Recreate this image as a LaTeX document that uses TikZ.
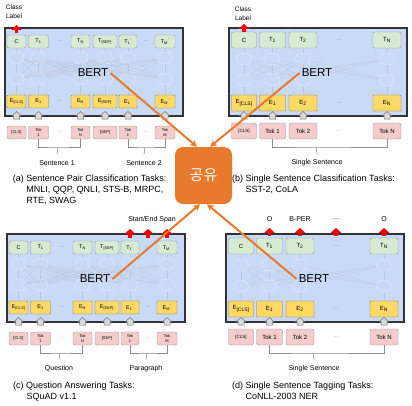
\documentclass[tikz,border=0pt]{standalone}
\usepackage{fontspec}
\setmainfont{Liberation Sans}
\newfontfamily\krfont{Noto Sans CJK KR}
\usetikzlibrary{arrows.meta,calc,positioning,shapes.geometric}

\definecolor{bertblue}{RGB}{201,218,248}
\definecolor{outgreen}{RGB}{217,234,211}
\definecolor{embyellow}{RGB}{255,217,102}
\definecolor{tokpink}{RGB}{244,204,204}
\definecolor{shareorange}{RGB}{232,122,46}
\definecolor{layerline}{RGB}{222,230,248}
\definecolor{linkgray}{RGB}{188,199,222}

\tikzset{
  bertbox/.style={draw=black!80,fill=bertblue,line width=1.2pt},
  outbox/.style={draw=black!40,fill=outgreen,rounded corners=2pt,inner sep=0pt,font=\fontsize{5.5}{6}\selectfont},
  embbox/.style={draw=black!55,fill=embyellow,rounded corners=0.8pt,inner sep=0pt,font=\fontsize{5.5}{6}\selectfont},
  tokbox/.style={draw=black!40,fill=tokpink,rounded corners=2pt,inner sep=0pt,align=center,font=\fontsize{4}{4.5}\selectfont},
  dots/.style={text=black!55,inner sep=0pt,font=\fontsize{5}{6}\selectfont},
  layer/.style={ellipse,draw=layerline,line width=0.7pt,minimum width=15pt,minimum height=12pt,inner sep=0pt},
  layerlink/.style={draw=linkgray,line width=0.3pt},
  uparr/.style={draw=black!55,fill=black!15,line width=0.5pt},
  redup/.style={draw=red,line width=3.5pt,-{Triangle[width=10pt,length=5pt]}},
  brk/.style={draw=black!45,line width=0.6pt},
  bertlbl/.style={inner sep=2pt,font=\fontsize{11.5}{12}\selectfont},
  sentlbl/.style={inner sep=1pt,font=\fontsize{7}{8}\selectfont},
  classlbl/.style={align=center,inner sep=0pt,font=\fontsize{6.5}{8.5}\selectfont},
  capt/.style={anchor=north west,align=left,inner sep=0pt,font=\fontsize{9}{11}\selectfont},
  sharebox/.style={fill=shareorange,rounded corners=8pt,minimum width=57pt,minimum height=57pt,text=white,font=\krfont\fontsize{15}{16}\selectfont},
  share/.style={draw=shareorange,line width=2pt,-{Stealth[length=7pt,width=7pt]}}
}

\begin{document}
\begin{tikzpicture}[x=1pt,y=-1pt]
\useasboundingbox (0,0) rectangle (412,405);

% sentence pair panels (a) and (c)
\foreach \p/\dx/\dy/\sa/\sb in {a/0/0/Sentence 1/Sentence 2, c/2/206/Question/Paragraph}{
\begin{scope}[shift={(\dx,\dy)}]
  \draw[bertbox] (5,28) rectangle (183,116);
  \foreach \i/\x/\w/\labo/\labe/\labt in {
      1/16.5/19/C/E\textsubscript{[CLS]}/{[CLS]},
      2/38.5/20/T\textsubscript{1}/E\textsubscript{1}/Tok\\1,
      3/80.5/19/T\textsubscript{N}/E\textsubscript{N}/Tok\\N,
      4/105/24/T\textsubscript{[SEP]}/E\textsubscript{[SEP]}/{[SEP]},
      5/128/18/T\textsubscript{1}\textsuperscript{'}/E\textsubscript{1}\textsuperscript{'}/Tok\\1,
      6/165/20/T\textsubscript{M}\textsuperscript{'}/E\textsubscript{M}\textsuperscript{'}/Tok\\M}{
    \node[layer] (u\p\i) at (\x,58) {};
    \node[layer] (l\p\i) at (\x,79) {};
    \node[outbox,minimum width=\w pt,minimum height=13pt] (o\p\i) at (\x,41.5) {\labo};
    \node[embbox,minimum width=\w pt,minimum height=13pt] (e\p\i) at (\x,101.5) {\labe};
    \node[tokbox,minimum width=\w pt,minimum height=13pt] (t\p\i) at (\x,132.5) {\labt};
    \draw[uparr] (\x-3,119) -- (\x-3,115.5) -- (\x-4.5,115.5) -- (\x,111.5) -- (\x+4.5,115.5) -- (\x+3,115.5) -- (\x+3,119) -- cycle;
  }
  \foreach \r/\y in {o/41.5,e/101.5,t/132.5}{
    \node[dots] (\r d\p1) at (59.5,\y) {...};
    \node[dots] (\r d\p2) at (146,\y) {...};
  }
  \foreach \i in {1,...,6}{
    \draw[layerlink] (o\p\i) -- (u\p\i) (l\p\i) -- (e\p\i);
    \foreach \j in {1,...,6} \draw[layerlink] (u\p\i) -- (l\p\j);
  }
  \node[bertlbl] (bert\p) at (93,73) {BERT};
  % brackets under the tokens
  \coordinate (k\p1) at (58,147);
  \coordinate (k\p2) at (145,147);
  \draw[brk] (t\p2.south) |- (k\p1) -| (t\p3.south);
  \draw[brk] (t\p5.south) |- (k\p2) -| (t\p6.south);
  \node[sentlbl] (s\p1) at (57,163) {\sa};
  \node[sentlbl] (s\p2) at (144,163) {\sb};
  \draw[brk] (k\p1) -- ([yshift=5pt]s\p1.north);
  \draw[brk] (k\p2) -- ([yshift=5pt]s\p2.north);
\end{scope}
}

% single sentence panels (b) and (d)
\foreach \p/\dx/\dy in {b/0/0, d/-3/206}{
\begin{scope}[shift={(\dx,\dy)}]
  \draw[bertbox] (229,28) rectangle (407,116);
  \foreach \i/\x/\w/\labo/\labe/\labt in {
      1/244/25/C/E\textsubscript{[CLS]}/{\fontsize{4.5}{5}\selectfont[CLS]},
      2/272.5/26/T\textsubscript{1}/E\textsubscript{1}/Tok 1,
      3/303/28/T\textsubscript{2}/E\textsubscript{2}/Tok 2,
      4/387/28/T\textsubscript{N}/E\textsubscript{N}/Tok N}{
    \node[layer] (u\p\i) at (\x,59) {};
    \node[layer] (l\p\i) at (\x,80) {};
    \node[outbox,font=\fontsize{6}{7}\selectfont,minimum width=\w pt,minimum height=16pt] (o\p\i) at (\x,40) {\labo};
    \node[embbox,font=\fontsize{6}{7}\selectfont,minimum width=\w pt,minimum height=16pt] (e\p\i) at (\x,103) {\labe};
    \node[tokbox,font=\fontsize{6}{7}\selectfont,minimum width=\w pt,minimum height=16pt] (t\p\i) at (\x,131) {\labt};
    \draw[uparr] (\x-3,119) -- (\x-3,115.5) -- (\x-4.5,115.5) -- (\x,111.5) -- (\x+4.5,115.5) -- (\x+3,115.5) -- (\x+3,119) -- cycle;
  }
  \foreach \r/\y in {o/40,e/103,t/131}
    \node[dots] (\r d\p) at (339,\y) {...};
  \foreach \i in {1,...,4}{
    \draw[layerlink] (o\p\i) -- (u\p\i) (l\p\i) -- (e\p\i);
    \foreach \j in {1,...,4} \draw[layerlink] (u\p\i) -- (l\p\j);
  }
  \node[bertlbl] (bert\p) at (317,73) {BERT};
  \coordinate (k\p) at (316,147);
  \draw[brk] (t\p2.south) |- (k\p) -| (t\p4.south);
  \node[sentlbl] (s\p) at (317,163) {Single Sentence};
  \draw[brk] (k\p) -- ([yshift=5pt]s\p.north);
\end{scope}
}

% outputs and captions
\draw[redup] ([yshift=2pt]oa1.north) -- ++(0,-8);
\node[classlbl] (clsa) at (14,11.5) {Class\\Label};
\draw[redup] (ob1.north) -- ++(0,-8);
\node[classlbl] (clsb) at (243,13.5) {Class\\Label};
\foreach \n in {oc5,odc2,oc6}
  \draw[redup] ($(\n |- oc5.north)+(0,-3)$) -- ++(0,-9);
\node[sentlbl] (spanc) at (152,220) {Start/End Span};
\foreach \n/\t in {od2/O, od3/B-PER, odd/\ldots, od4/O}{
  \draw[redup] ($(\n |- od2.north)+(0,-2)$) -- ++(0,-8);
  \node[sentlbl] (g\n) at ($(\n |- od2.north)+(0,-19)$) {\t};
}
\node[capt] (capa) at (12.7,175) {(a) Sentence Pair Classification Tasks:\\\hspace*{1.5em}MNLI, QQP, QNLI, STS-B, MRPC,\\\hspace*{1.5em}RTE, SWAG};
\node[capt] (capb) at (232,175) {(b) Single Sentence Classification Tasks:\\\hspace*{1.5em}SST-2, CoLA};
\node[capt] (capc) at (13,382) {(c) Question Answering Tasks:\\\hspace*{1.5em}SQuAD v1.1};
\node[capt] (capd) at (232,382) {(d) Single Sentence Tagging Tasks:\\\hspace*{1.5em}CoNLL-2003 NER};

% shared BERT
\node[sharebox] (share) at (203.5,175.5) {공유};
\draw[share] (berta.east) -- ([xshift=-6.5pt]share.north);
\draw[share] (bertb.west) -- ([xshift=6.5pt]share.north);
\draw[share] (bertc.east) -- ([xshift=-3.5pt]share.south);
\draw[share] (bertd.west) -- ([xshift=3.5pt]share.south);
\end{tikzpicture}
\end{document}
